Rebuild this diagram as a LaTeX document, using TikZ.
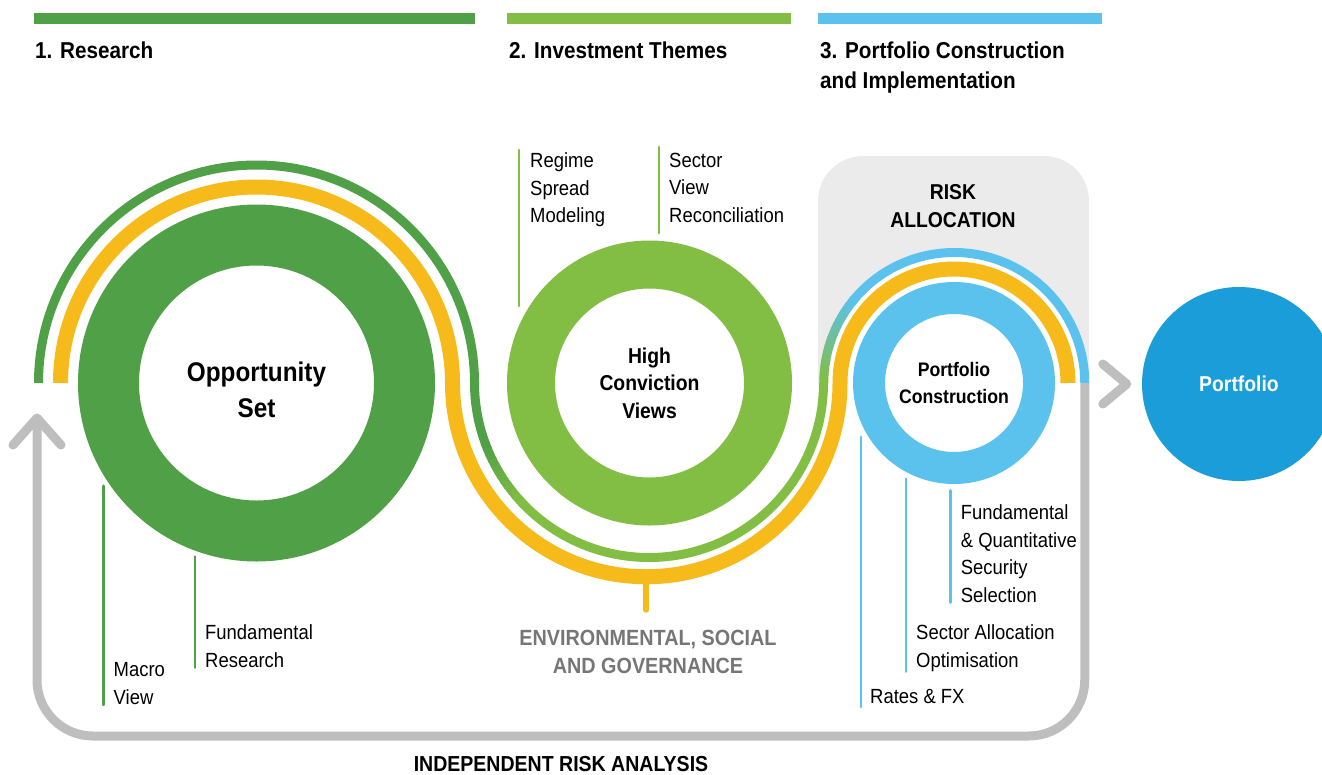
\documentclass[tikz,border=0pt]{standalone}
\usepackage{fontspec}
\setmainfont{Liberation Sans}[FakeStretch=0.9]
\usetikzlibrary{calc,positioning}

\definecolor{researchgreen}{HTML}{50A047}
\definecolor{themegreen}{HTML}{82BE43}
\definecolor{esgyellow}{HTML}{F6BB1A}
\definecolor{skyblue}{HTML}{5BC1ED}
\definecolor{deepblue}{HTML}{1A9DD9}
\definecolor{loopgray}{HTML}{BEBEBE}
\definecolor{panelgray}{HTML}{EBEBEB}
\definecolor{esggray}{HTML}{767676}

\begin{document}
\begin{tikzpicture}[x=1pt,y=1pt,
  title/.style={anchor=north west,inner sep=0pt,align=left,font=\bfseries\fontsize{23}{30}\selectfont},
  lbl/.style={anchor=north west,inner xsep=10pt,inner ysep=0pt,align=left,font=\fontsize{20.5}{27.5}\selectfont},
  ring/.style={circle,inner sep=0pt,fill=white},
  ringtext/.style={align=center,inner sep=0pt,font=\bfseries\fontsize{21.5}{27.5}\selectfont},
  tick/.style={line width=2.8pt,line cap=round},
  strand/.style={line width=9pt},
  loopline/.style={line width=9pt,color=loopgray},
  chev/.style={loopline,line cap=round,line join=round}]
\useasboundingbox (0,0) rectangle (1322,-774);
\clip (0,0) rectangle (1322,-774);

% stage headers
\fill[researchgreen] (34,-13) rectangle (475,-24);
\fill[themegreen] (507,-13) rectangle (791,-24);
\fill[skyblue] (818,-13) rectangle (1102,-24);
\node[title] (t1) at (35,-41.8) {1. Research};
\node[title] (t2) at (509,-41.8) {2. Investment Themes};
\node[title] (t3) at (820,-41.8) {3. Portfolio Construction\\and Implementation};

% risk allocation panel
\fill[panelgray] (818,-384) [rounded corners=45pt] -- (818,-156) -- (1089,-156) [sharp corners] -- (1089,-384) -- cycle;
\node[ringtext] (risk) at (953,-206) {RISK\\ALLOCATION};

\coordinate (gstart) at (38.5,-383);
\coordinate (ystart) at (60.5,-383);
\coordinate (midc) at (649,-383);
\coordinate (pcc) at (954.25,-383);
\fill[white] (pcc) circle[radius=127];

% yellow strand
\draw[strand,line width=15pt,esgyellow] (ystart) arc[start angle=180,end angle=0,radius=196]
  arc[start angle=180,end angle=270,radius=193.75] coordinate (ybottom)
  arc[start angle=270,end angle=360,radius=193.75]
  arc[start angle=180,end angle=0,radius=114] coordinate (yend);
\draw[esgyellow,line width=6pt,line cap=round] (ybottom) -- ++(0,-33);

% green to blue strand
\draw[strand,researchgreen] (gstart) arc[start angle=180,end angle=0,radius=218]
  arc[start angle=180,end angle=201,radius=174.5];
\foreach \k [evaluate=\k as \mix using 100-\k*100/11] in {0,...,11}
  \draw[strand,color=researchgreen!\mix!themegreen] ($(midc)+({200+2*\k}:174.5)$) arc[start angle={200+2*\k},delta angle=2.4,radius=174.5];
\draw[strand,themegreen] ($(midc)+(223:174.5)$) arc[start angle=223,end angle=360,radius=174.5];
\foreach \k [evaluate=\k as \mix using 100-\k*100/19] in {0,...,19}
  \draw[strand,color=themegreen!\mix!skyblue] ($(pcc)+({180-2*\k}:130.5)$) arc[start angle={180-2*\k},delta angle=-2.4,radius=130.5];
\draw[strand,skyblue] ($(pcc)+(141:130.5)$) arc[start angle=141,end angle=0,radius=130.5] coordinate (bend);

% independent risk analysis loop
\coordinate (looptip) at ([xshift=-1.5pt,yshift=-35pt]gstart);
\draw[loopline,rounded corners=56pt] (bend) -- (bend |- 0,-736) -- (looptip |- 0,-736) -- (looptip);
\draw[chev] ($(looptip)+(-24,-27)$) -- (looptip) -- ($(looptip)+(24,-27)$);
\node[font=\bfseries\fontsize{21.7}{26}\selectfont,inner sep=0pt] (ira) at (561,-764) {INDEPENDENT RISK ANALYSIS};

% rings
\node[ring,draw=researchgreen,line width=61pt,minimum size=296pt] (opp) at (256.5,-383) {};
\node[ringtext,font=\bfseries\fontsize{27}{36}\selectfont] (opptext) at ([yshift=-7pt]opp.center) {Opportunity\\Set};
\node[ring,draw=themegreen,line width=48pt,minimum size=237pt] (hcv) at (649.5,-383) {};
\node[ringtext] (hcvtext) at (hcv.center) {High\\Conviction\\Views};
\node[ring,draw=skyblue,line width=32pt,minimum size=170pt] (pcons) at (954,-383) {};
\node[ringtext,font=\bfseries\fontsize{19.6}{26.7}\selectfont] (pconstext) at (pcons.center) {Portfolio\\Construction};
\node[ring,fill=deepblue,minimum size=194pt,text=white,font=\bfseries\fontsize{21.5}{26}\selectfont] (port) at (1239,-384) {Portfolio};
\draw[chev] ([xshift=-39pt,yshift=20pt]port.west) -- ([xshift=-15pt]port.west) -- ([xshift=-39pt,yshift=-20pt]port.west);

% ESG
\node[ringtext,font=\bfseries\fontsize{22}{28}\selectfont,text=esggray] (esg) at (648,-652) {ENVIRONMENTAL, SOCIAL\\AND GOVERNANCE};

% research labels
\node[lbl] (macro) at (103.5,-662.6) {Macro\\View};
\draw[tick,researchgreen] (macro.south west) -- ++(0,219);
\node[lbl] (fundres) at (195,-624.6) {Fundamental\\Research};
\draw[tick,researchgreen] (fundres.south west) -- ++(0,111);

% theme labels
\node[lbl,inner xsep=11pt] (regime) at (519,-152.6) {Regime\\Spread\\Modeling};
\draw[tick,themegreen] ([yshift=2.6pt]regime.north west) -- ++(0,-156);
\node[lbl] (sector) at (659,-152.6) {Sector\\View\\Reconciliation};
\draw[tick,themegreen] ([yshift=5.6pt]sector.north west) -- ++(0,-86);

% portfolio labels
\node[lbl,inner xsep=9pt] (rates) at (861,-689.6) {Rates \& FX};
\draw[tick,skyblue] ([yshift=-2.6pt]rates.south west) -- ++(0,270);
\node[lbl] (secalloc) at (906,-624.6) {Sector Allocation\\Optimisation};
\draw[tick,skyblue] (secalloc.south west) -- ++(0,193);
\node[lbl] (fundquant) at (950.7,-504.6) {Fundamental\\\& Quantitative\\Security\\Selection};
\draw[tick,skyblue] (fundquant.south west) -- ++(0,112);
\end{tikzpicture}
\end{document}
